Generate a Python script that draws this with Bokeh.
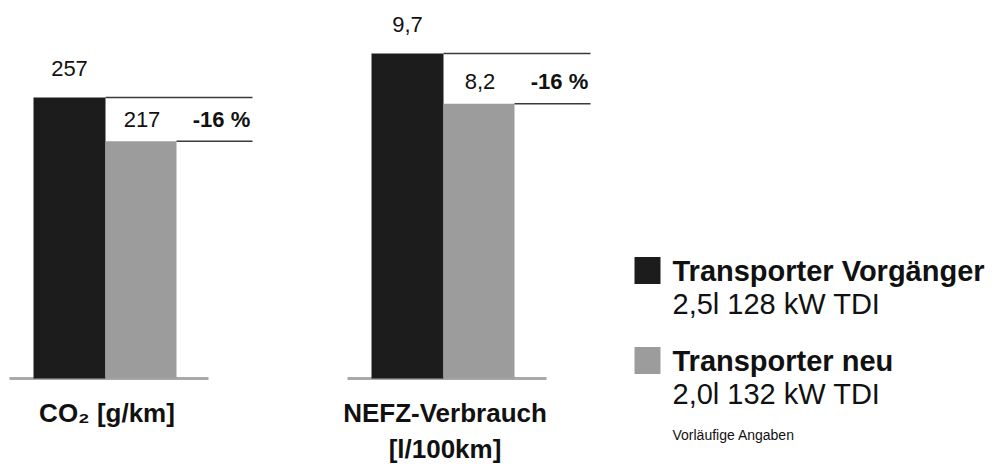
from bokeh.plotting import figure
from bokeh.models import Range1d
from bokeh.core.properties import value
from bokeh.embed import file_html
from bokeh.resources import INLINE

# ---- data ----
categories = ["CO₂ [g/km]", "NEFZ-Verbrauch\n[l/100km]"]
series_names = ["Transporter Vorgänger", "Transporter neu"]
series_sub = ["2,5l 128 kW TDI", "2,0l 132 kW TDI"]
old_values = [257, 9.7]
new_values = [217, 8.2]
old_labels = ["257", "9,7"]
new_labels = ["217", "8,2"]
change_labels = ["-16 %", "-16 %"]
note = "Vorläufige Angaben"

# ---- layout / style ----
W, H = 1004, 464
FONT = "Liberation Sans"
C_OLD = "#1c1c1c"
C_NEW = "#9c9c9c"
BASE_PX = 86                      # baseline height above bottom (px)
px_per_unit = [1.093, 33.5]       # vertical scale of each group
range_names = ["default", "fuel"]
group_left = [33, 371]
bar_w = 72

p = figure(width=W, height=H, output_backend="svg", toolbar_location=None,
           x_range=Range1d(0, W),
           y_range=Range1d(-BASE_PX / px_per_unit[0], (H - BASE_PX) / px_per_unit[0]),
           min_border=0, outline_line_color=None)
p.extra_y_ranges = {
    "fuel": Range1d(-BASE_PX / px_per_unit[1], (H - BASE_PX) / px_per_unit[1]),
    "px": Range1d(H, 0),
}
p.axis.visible = False
p.grid.visible = False
p.background_fill_color = "white"
p.border_fill_color = "white"

for i in range(2):
    rn = range_names[i]
    l0 = group_left[i]
    r0 = l0 + bar_w
    r1 = r0 + bar_w - 1
    line_end = r1 + 76
    # baseline
    p.segment(x0=[l0 - 24], y0=[0], x1=[r1 + 32], y1=[0], line_color="#a9a9a9",
              line_width=3, y_range_name=rn)
    # bars
    p.quad(left=[l0], right=[r0], bottom=[0], top=[old_values[i]], fill_color=C_OLD,
           line_color=None, y_range_name=rn)
    p.quad(left=[r0], right=[r1], bottom=[0], top=[new_values[i]], fill_color=C_NEW,
           line_color=None, y_range_name=rn)
    # reference lines
    p.segment(x0=[r0, r1], y0=[old_values[i], new_values[i]],
              x1=[line_end, line_end], y1=[old_values[i], new_values[i]],
              line_color="#3a3a3a", line_width=1.5, y_range_name=rn)
    # value labels
    p.text(x=[(l0 + r0) / 2], y=[old_values[i]], text=[old_labels[i]], y_offset=-29,
           text_align="center", text_baseline="middle", text_font=value(FONT),
           text_font_size="22px", text_color="#111111", y_range_name=rn)
    p.text(x=[(r0 + r1) / 2 + 1], y=[new_values[i]], text=[new_labels[i]], y_offset=-22,
           text_align="center", text_baseline="middle", text_font=value(FONT),
           text_font_size="22px", text_color="#111111", y_range_name=rn)
    p.text(x=[r1 + 45], y=[new_values[i]], text=[change_labels[i]], y_offset=-22,
           text_align="center", text_baseline="middle", text_font=value(FONT),
           text_font_size="22px", text_font_style="bold", text_color="#111111",
           y_range_name=rn)
    # category label
    p.text(x=[(l0 + r1) / 2 + 2], y=[397], text=[categories[i]], text_align="center",
           text_baseline="top", text_font=value(FONT), text_font_size="26px",
           text_font_style="bold", text_color="#111111", text_line_height=1.2,
           y_range_name="px")

# legend
leg_y = [270, 360]
colors = [C_OLD, C_NEW]
for j in range(2):
    p.rect(x=[647], y=[leg_y[j]], width=26, height=27, width_units="screen",
           height_units="screen", fill_color=colors[j], line_color=None, y_range_name="px")
    p.text(x=[672], y=[leg_y[j]], text=[series_names[j]], text_align="left",
           text_baseline="middle", text_font=value(FONT), text_font_size="29px",
           text_font_style="bold", text_color="#111111", y_range_name="px")
    p.text(x=[672], y=[leg_y[j] + 33], text=[series_sub[j]], text_align="left",
           text_baseline="middle", text_font=value(FONT), text_font_size="29px",
           text_color="#111111", y_range_name="px")
p.text(x=[672], y=[434], text=[note], text_align="left", text_baseline="middle",
       text_font=value(FONT), text_font_size="14px", text_color="#111111",
       y_range_name="px")

open("out.html", "w").write(file_html(p, INLINE))
